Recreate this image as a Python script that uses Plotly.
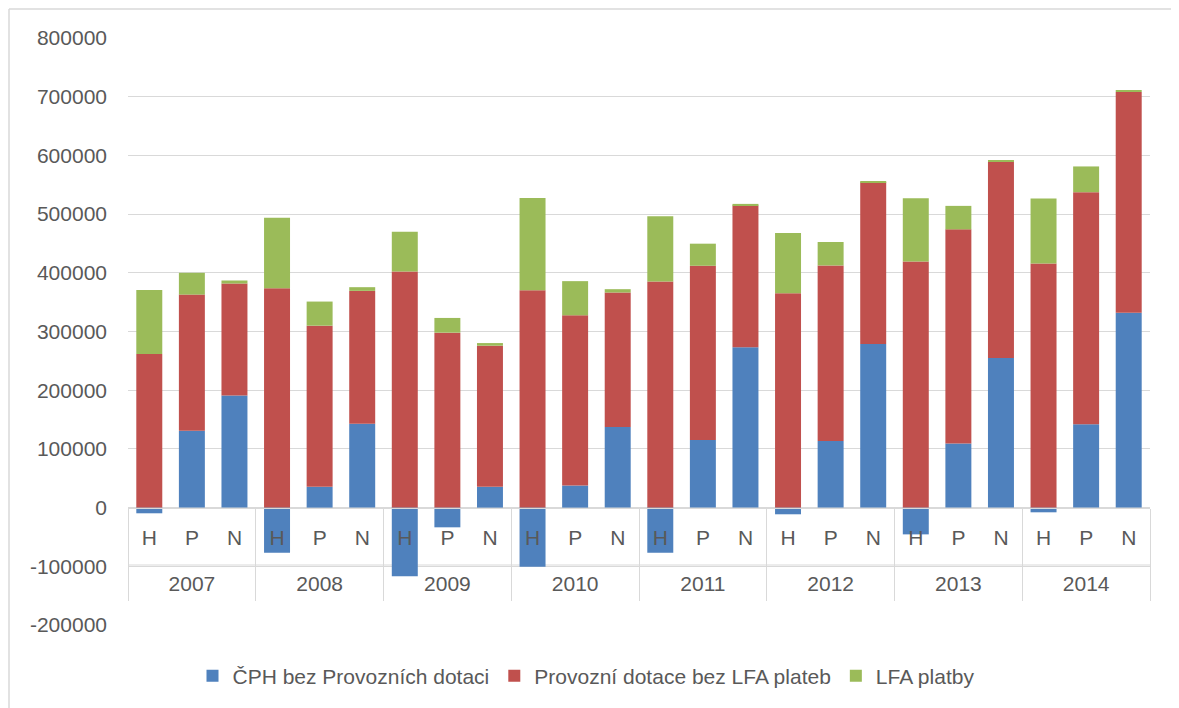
import plotly.graph_objects as go

years = ["2007", "2008", "2009", "2010", "2011", "2012", "2013", "2014"]
types = ["H", "P", "N"]

cph = [-9700, 131100, 190900,
       -76900, 35400, 143000,
       -116800, -33600, 35400,
       -100900, 37600, 137300,
       -76900, 115000, 273000,
       -11400, 113300, 278600,
       -45600, 109400, 254700,
       -8000, 141900, 332100]
dotace = [261500, 231800, 190800,
          373800, 274500, 226200,
          402300, 298000, 240400,
          370400, 290000, 229100,
          385100, 297000, 241500,
          365300, 299200, 275800,
          419300, 364600, 335000,
          415900, 395400, 376100]
lfa = [109000, 37100, 5200,
       120000, 41100, 6300,
       67700, 25100, 4500,
       157200, 58200, 5700,
       111200, 37600, 2900,
       102600, 40000, 1700,
       107700, 40000, 1800,
       110600, 43900, 2400]

y_ticks = [-200000, -100000, 0, 100000, 200000, 300000, 400000, 500000, 600000, 700000, 800000]

series_names = ["ČPH bez Provozních dotaci", "Provozní dotace bez LFA plateb", "LFA platby"]
colors = ["#4F81BD", "#C0504D", "#9BBB59"]

categories = [f"{y} {t}" for y in years for t in types]
cat_labels = [t for _ in years for t in types]
n_types = len(types)
n_cat = len(categories)
year_centers = [i * n_types + (n_types - 1) / 2 for i in range(len(years))]
year_bounds = [i * n_types - 0.5 for i in range(len(years) + 1)]

# the page body has an 8px margin; compensate so the chart lands where the reference has it
OFF = 8
W, H = 1179 - OFF, 708 - OFF
L, R, T, B = 128 - OFF, 29, 38 - OFF, 83
pw, ph = W - L - R, H - T - B


def px2paper_x(px):
    return (px - OFF - L) / pw


def px2paper_y(py):
    return (H - B - (py - OFF)) / ph


fig = go.Figure()
for name, vals, col in zip(series_names, [cph, dotace, lfa], colors):
    fig.add_trace(go.Bar(x=categories, y=vals, name=name,
                         marker=dict(color=col, line=dict(width=0))))

ymin, ymax = y_ticks[0], y_ticks[-1]
zero_pos = (0 - ymin) / (ymax - ymin)
xr = [-0.5, n_cat - 0.5]
grid = "#d9d9d9"
txt = "#595959"
FS = 21

fig.update_layout(
    width=W, height=H,
    margin=dict(l=L, r=R, t=T, b=B, pad=0, autoexpand=False),
    barmode="relative",
    bargap=0.39,
    plot_bgcolor="white", paper_bgcolor="white",
    font=dict(family="Liberation Sans", size=FS, color=txt),
    showlegend=True,
    legend=dict(orientation="h", x=px2paper_x(586), xanchor="center",
                y=px2paper_y(676), yanchor="middle",
                font=dict(size=FS, color=txt),
                itemwidth=30, tracegroupgap=0),
    xaxis=dict(type="category", categoryorder="array", categoryarray=categories,
               range=xr, anchor="free", position=zero_pos,
               showline=True, linecolor=grid, linewidth=1,
               tickvals=categories, ticktext=cat_labels,
               ticks="", showgrid=False, ticklabelstandoff=11,
               tickfont=dict(size=FS, color=txt)),
    xaxis2=dict(overlaying="x", anchor="free", position=zero_pos,
                range=xr, showline=False, showgrid=False, zeroline=False,
                tickvals=year_centers, ticktext=years, ticks="",
                ticklabelstandoff=61,
                tickfont=dict(size=FS, color=txt)),
    xaxis3=dict(overlaying="x", anchor="free", position=zero_pos,
                range=xr, showline=False, showgrid=False, zeroline=False,
                tickvals=year_bounds, showticklabels=False,
                ticks="outside", ticklen=92, tickcolor=grid, tickwidth=1),
    yaxis=dict(range=[ymin, ymax], tickvals=y_ticks,
               ticktext=[str(v) for v in y_ticks],
               showgrid=True, gridcolor=grid, gridwidth=1,
               zeroline=True, zerolinecolor=grid, zerolinewidth=1,
               showline=False, ticks="", ticklabelstandoff=20,
               tickfont=dict(size=FS, color=txt)),
    shapes=[
        dict(type="line", xref="paper", yref="paper",
             x0=0, x1=1, y0=px2paper_y(565), y1=px2paper_y(565),
             line=dict(color=grid, width=1), layer="below"),
        dict(type="line", xref="paper", yref="paper",
             x0=px2paper_x(9), x1=px2paper_x(1179),
             y0=px2paper_y(9), y1=px2paper_y(9),
             line=dict(color=grid, width=1.5)),
        dict(type="line", xref="paper", yref="paper",
             x0=px2paper_x(9), x1=px2paper_x(9),
             y0=px2paper_y(9), y1=px2paper_y(708),
             line=dict(color=grid, width=1.5)),
    ],
)

# invisible helper traces so the overlay axes are drawn
fig.add_trace(go.Scatter(x=[], y=[], xaxis="x2", showlegend=False, hoverinfo="skip"))
fig.add_trace(go.Scatter(x=[], y=[], xaxis="x3", showlegend=False, hoverinfo="skip"))

fig.write_html("out.html")
